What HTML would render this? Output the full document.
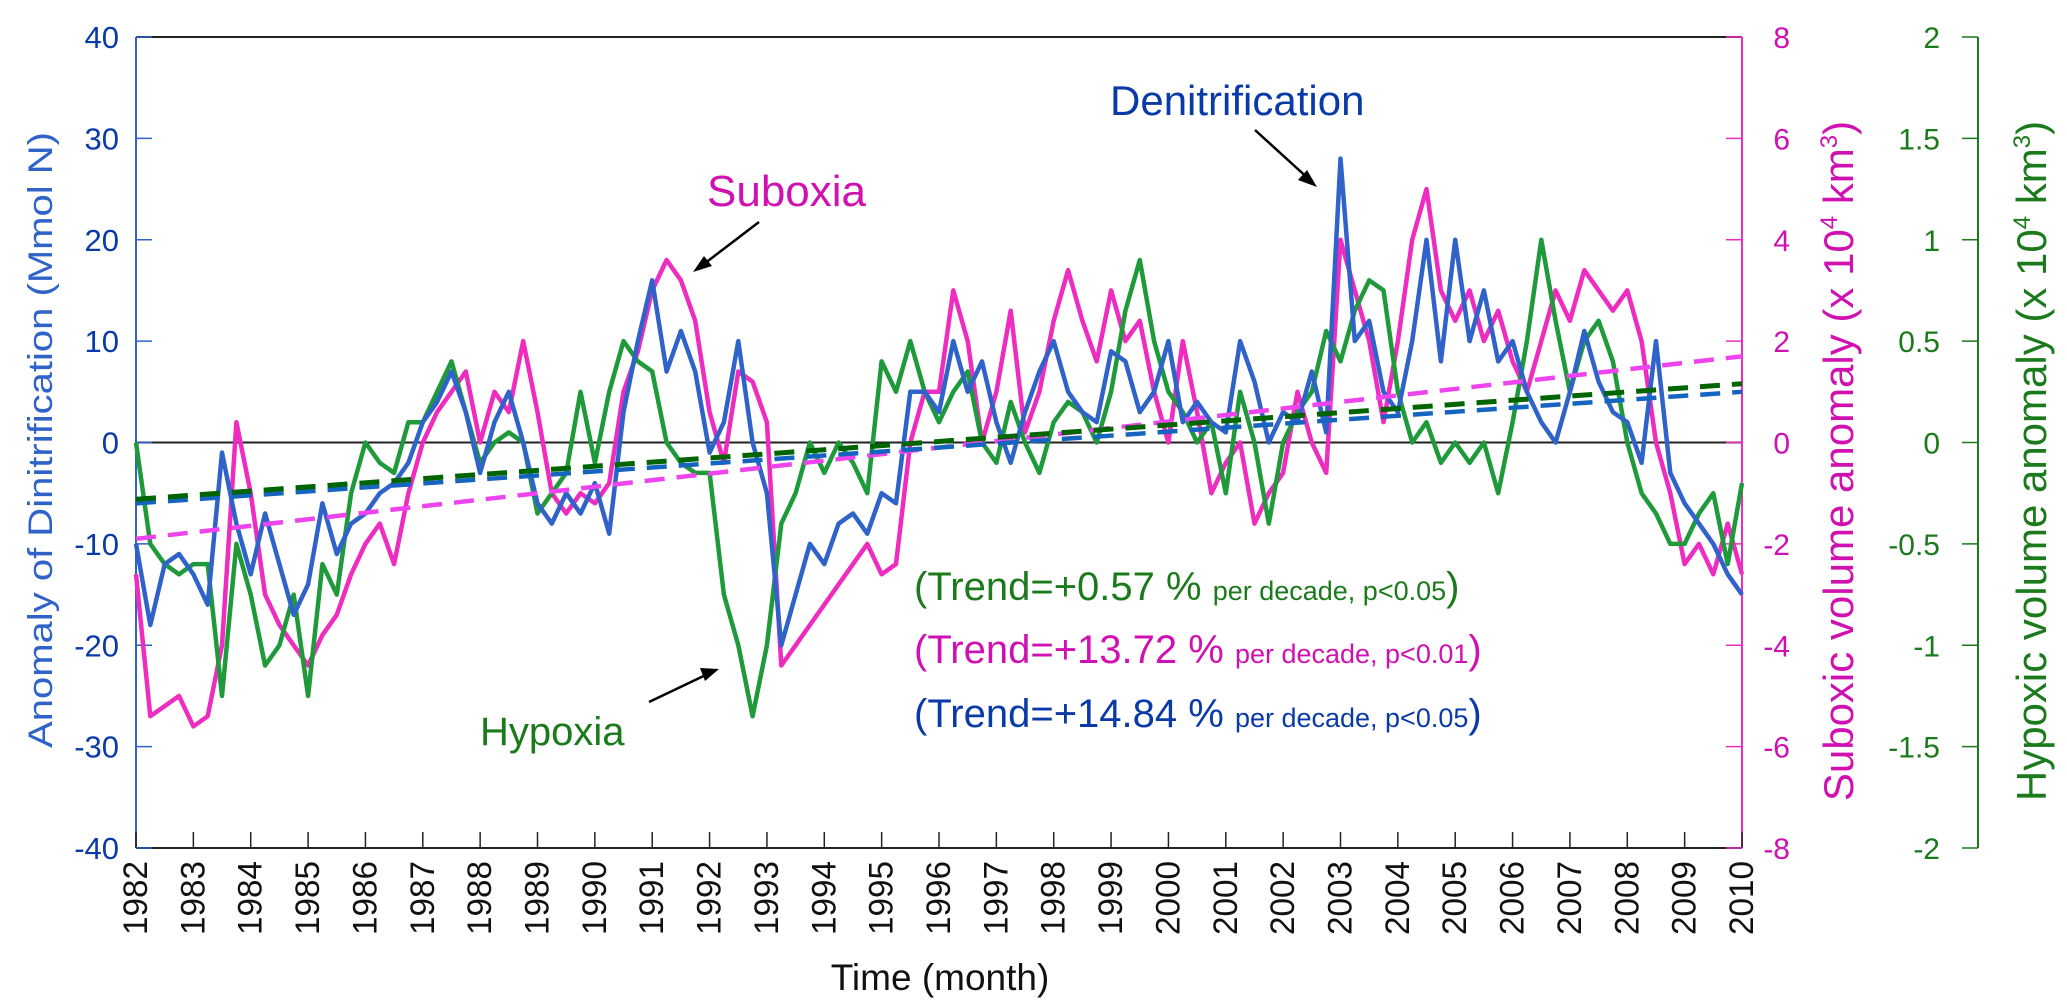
<!DOCTYPE html>
<html><head><meta charset="utf-8">
<style>
html,body{margin:0;padding:0;background:#fff;}
svg{display:block;font-family:"Liberation Sans",sans-serif;}
</style></head>
<body>
<svg id="chart" width="2067" height="1007" viewBox="0 0 2067 1007" xmlns="http://www.w3.org/2000/svg">
<g id="axes"></g>
<g id="series"></g>
<g id="annot">
  <text x="707" y="206" font-size="44" fill="#d010b0">Suboxia</text>
  <line x1="759" y1="222" x2="700" y2="267" stroke="#000" stroke-width="2.5"/>
  <polygon points="693,272 704,256 712,266" fill="#000"/>
  <text x="1110" y="115" font-size="42" fill="#0a3aa8">Denitrification</text>
  <line x1="1255" y1="130" x2="1311" y2="181" stroke="#000" stroke-width="2.5"/>
  <polygon points="1317,187 1298,180 1307,170" fill="#000"/>
  <text x="480" y="745" font-size="40" fill="#1b7a1b">Hypoxia</text>
  <line x1="649" y1="702" x2="712" y2="672" stroke="#000" stroke-width="2.5"/>
  <polygon points="719,669 705,681 700,668" fill="#000"/>
  <text x="914" y="600" fill="#1b7a1b"><tspan font-size="40">(Trend=+0.57 % </tspan><tspan font-size="27">per decade, p&lt;0.05</tspan><tspan font-size="40">)</tspan></text>
  <text x="914" y="663" fill="#d010b0"><tspan font-size="40">(Trend=+13.72 % </tspan><tspan font-size="27">per decade, p&lt;0.01</tspan><tspan font-size="40">)</tspan></text>
  <text x="914" y="727" fill="#0a3aa8"><tspan font-size="40">(Trend=+14.84 % </tspan><tspan font-size="27">per decade, p&lt;0.05</tspan><tspan font-size="40">)</tspan></text>
</g>
</svg>
<script>
// quarterly values from 1982.0 to 2010.0
const denitValues = [-10,-18,-12,-11, -13,-16,-1,-8, -13,-7,-12,-17, -14,-6,-11,-8, -7,-5,-4,-2, 2,4,7,3, -3,2,5,0, -6,-8,-5,-7, -4,-9,3,10, 16,7,11,7, -1,2,10,0, -5,-20,-15,-10, -12,-8,-7,-9, -5,-6,5,5, 3,10,5,8, 2,-2,3,7, 10,5,3,2, 9,8,3,5, 10,2,4,2, 1,10,6,0, 3,2,7,1, 28,10,12,5, 3,10,20,8, 20,10,15,8, 10,5,2,0, 5,11,6,3, 2,-2,10,-3, -6,-8,-10,-13, -15];
const suboxValues = [-2.6,-5.4,-5.2,-5, -5.6,-5.4,-4,0.4, -1,-3,-3.6,-4, -4.4,-3.8,-3.4,-2.6, -2,-1.6,-2.4,-1, 0,0.6,1,1.4, 0,1,0.6,2, 0.6,-1,-1.4,-1, -1.2,-0.8,1,1.8, 3,3.6,3.2,2.4, 0.6,-0.4,1.4,1.2, 0.4,-4.4,-4,-3.6, -3.2,-2.8,-2.4,-2, -2.6,-2.4,0,1, 1,3,2,0, 1,2.6,0.2,1, 2.4,3.4,2.4,1.6, 3,2,2.4,1, 0,2,0.6,-1, -0.4,0,-1.6,-1, -0.6,1,0,-0.6, 4,3,2,0.4, 2,4,5,3, 2.4,3,2,2.6, 1.6,1,2,3, 2.4,3.4,3,2.6, 3,2,0,-1, -2.4,-2,-2.6,-1.6, -2.6];
const hypoxValues = [0,-0.5,-0.6,-0.65, -0.6,-0.6,-1.25,-0.5, -0.75,-1.1,-1,-0.75, -1.25,-0.6,-0.75,-0.25, 0,-0.1,-0.15,0.1, 0.1,0.25,0.4,0.15, -0.1,0,0.05,0, -0.35,-0.25,-0.15,0.25, -0.1,0.25,0.5,0.4, 0.35,0,-0.1,-0.15, -0.15,-0.75,-1,-1.35, -1,-0.4,-0.25,0, -0.15,0,-0.1,-0.25, 0.4,0.25,0.5,0.25, 0.1,0.25,0.35,0, -0.1,0.2,0,-0.15, 0.1,0.2,0.15,0, 0.25,0.65,0.9,0.5, 0.25,0.15,0,0.1, -0.25,0.25,0,-0.4, 0,0.15,0.25,0.55, 0.4,0.65,0.8,0.75, 0.25,0,0.1,-0.1, 0,-0.1,0,-0.25, 0.1,0.5,1,0.6, 0.25,0.5,0.6,0.4, 0,-0.25,-0.35,-0.5, -0.5,-0.35,-0.25,-0.6, -0.2];
const denitTrend = [-6, 5];
const suboxTrend = [-1.9, 1.7];
const hypoxTrend = [-0.28, 0.29];
const years = [1982,1983,1984,1985,1986,1987,1988,1989,1990,1991,1992,1993,1994,1995,1996,1997,1998,1999,2000,2001,2002,2003,2004,2005,2006,2007,2008,2009,2010];
const leftTicks = [40,30,20,10,0,-10,-20,-30,-40];
const pinkTicks = [8,6,4,2,0,-2,-4,-6,-8];
const greenTicks = ["2","1.5","1","0.5","0","-0.5","-1","-1.5","-2"];

const NS = "http://www.w3.org/2000/svg";
const X0 = 136, X1 = 1742, Y0 = 37, Y1 = 848, GX = 1978;
const xs = t => X0 + (t - 1982) / 28 * (X1 - X0);
const yL = v => Y0 + (40 - v) / 80 * (Y1 - Y0);
const yP = v => Y0 + (8 - v) / 16 * (Y1 - Y0);
const yG = v => Y0 + (2 - v) / 4 * (Y1 - Y0);
function mk(tag, attrs, parent, txt) {
  const e = document.createElementNS(NS, tag);
  for (const k in attrs) e.setAttribute(k, attrs[k]);
  if (txt !== undefined) e.textContent = txt;
  parent.appendChild(e);
  return e;
}
const ax = document.getElementById('axes');
const se = document.getElementById('series');

let z = mk('line', {x1: X0, x2: X1, y1: yL(0), y2: yL(0), stroke: '#222', 'stroke-width': 2}, ax);


let tb = mk('line', {x1: X0, x2: X1, y1: Y0, y2: Y0, stroke: '#222', 'stroke-width': 2}, ax);


let bx = mk('line', {x1: X0, x2: X1, y1: Y1, y2: Y1, stroke: '#222', 'stroke-width': 2}, ax);


let la = mk('line', {x1: X0, x2: X0, y1: Y0, y2: Y1, stroke: '#2f63c9', 'stroke-width': 2}, ax);


let pa = mk('line', {x1: X1, x2: X1, y1: Y0, y2: Y1, stroke: '#ee2cc0', 'stroke-width': 2}, ax);


let ga = mk('line', {x1: GX, x2: GX, y1: Y0, y2: Y1, stroke: '#1b7a1b', 'stroke-width': 2}, ax);



years.forEach(yr => {
  const x = xs(yr);
  let t = mk('line', {x1: x, x2: x, y1: Y1, y2: Y1 - 16, stroke: '#222', 'stroke-width': 1.5}, ax);
  
  
  let l = mk('text', {x: 0, y: 0, 'font-size': 34, fill: '#111', 'text-anchor': 'end', textLength: 74, lengthAdjust: 'spacingAndGlyphs', transform: `translate(${x + 11},${861}) rotate(-90)`}, ax, String(yr));
  
  
});
leftTicks.forEach(v => {
  const y = yL(v);
  let t = mk('line', {x1: X0, x2: X0 + 16, y1: y, y2: y, stroke: '#2f63c9', 'stroke-width': 1.5}, ax);
  
  
  let l = mk('text', {x: 119, y: y + 11, 'font-size': 31, fill: '#0a3aa8', 'text-anchor': 'end'}, ax, String(v));
  
  
});
pinkTicks.forEach(v => {
  const y = yP(v);
  let t = mk('line', {x1: X1 - 16, x2: X1, y1: y, y2: y, stroke: '#ee2cc0', 'stroke-width': 1.5}, ax);
  
  
  let l = mk('text', {x: 1790, y: y + 11, 'font-size': 30, fill: '#d010b0', 'text-anchor': 'end'}, ax, String(v));
  
  
});
greenTicks.forEach(s => {
  const y = yG(parseFloat(s));
  let t = mk('line', {x1: GX - 16, x2: GX, y1: y, y2: y, stroke: '#1b7a1b', 'stroke-width': 1.5}, ax);
  
  
  let l = mk('text', {x: 1940, y: y + 11, 'font-size': 30, fill: '#1b7a1b', 'text-anchor': 'end'}, ax, s);
  
  
});
let lt = mk('text', {x: 0, y: 0, 'font-size': 34, fill: '#2f63c9', 'text-anchor': 'middle', textLength: 616, lengthAdjust: 'spacingAndGlyphs', transform: 'translate(52,440) rotate(-90)'}, ax, 'Anomaly of Dinitrification (Mmol N)');


let pt = mk('text', {x: 0, y: 0, 'font-size': 42, fill: '#d010b0', 'text-anchor': 'middle', transform: 'translate(1853,461) rotate(-90)'}, ax);


pt.innerHTML = 'Suboxic volume anomaly (x 10<tspan font-size="24" dy="-16">4</tspan><tspan dy="16"> km</tspan><tspan font-size="24" dy="-16">3</tspan><tspan dy="16">)</tspan>';
let gt = mk('text', {x: 0, y: 0, 'font-size': 42, fill: '#1b7a1b', 'text-anchor': 'middle', transform: 'translate(2046,461) rotate(-90)'}, ax);


gt.innerHTML = 'Hypoxic volume anomaly (x 10<tspan font-size="24" dy="-16">4</tspan><tspan dy="16"> km</tspan><tspan font-size="24" dy="-16">3</tspan><tspan dy="16">)</tspan>';
let xt = mk('text', {x: 940, y: 990, 'font-size': 37, fill: '#111', 'text-anchor': 'middle'}, ax, 'Time (month)');



function pts(vals, yf) {
  return vals.map((v, i) => xs(1982 + i / 4).toFixed(1) + ',' + yf(v).toFixed(1)).join(' ');
}
let pl = mk('polyline', {points: pts(suboxValues, yP), fill: 'none', stroke: '#ee2cc0', 'stroke-width': 4.5, 'stroke-linejoin': 'round'}, se);


let gl = mk('polyline', {points: pts(hypoxValues, yG), fill: 'none', stroke: '#1f9a3a', 'stroke-width': 4.5, 'stroke-linejoin': 'round'}, se);


let bl = mk('polyline', {points: pts(denitValues, yL), fill: 'none', stroke: '#2f63c9', 'stroke-width': 4.5, 'stroke-linejoin': 'round'}, se);



let tp = mk('line', {x1: X0, x2: X1, y1: yP(suboxTrend[0]), y2: yP(suboxTrend[1]), stroke: '#ee44ee', 'stroke-width': 4.5, 'stroke-dasharray': '20 12'}, se);


let tbl = mk('line', {x1: X0, x2: X1, y1: yL(denitTrend[0]), y2: yL(denitTrend[1]), stroke: '#1565c0', 'stroke-width': 4.5, 'stroke-dasharray': '20 12'}, se);


let tg = mk('line', {x1: X0, x2: X1, y1: yG(hypoxTrend[0]), y2: yG(hypoxTrend[1]), stroke: '#006400', 'stroke-width': 5, 'stroke-dasharray': '20 12'}, se);


</script>
</body></html>
